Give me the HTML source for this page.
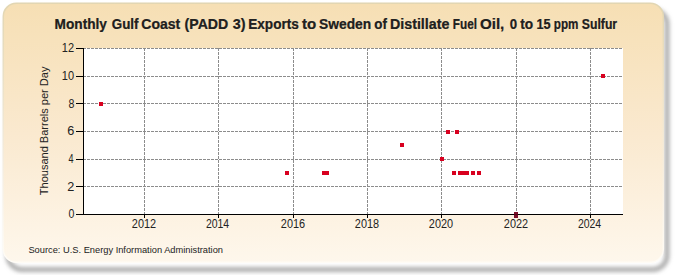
<!DOCTYPE html>
<html><head><meta charset="utf-8"><style>
html,body{margin:0;padding:0;background:#fff;}
body{width:675px;height:275px;overflow:hidden;}
svg{display:block;}
text{font-family:"Liberation Sans",sans-serif;fill:#222;}
</style></head><body>
<svg width="675" height="275" viewBox="0 0 675 275">
<defs>
<linearGradient id="bg" x1="0" y1="0" x2="0" y2="1">
<stop offset="0" stop-color="#f6dfb4"/>
<stop offset="0.5" stop-color="#fae9cf"/>
<stop offset="1" stop-color="#fef7ec"/>
</linearGradient>
<linearGradient id="bd" x1="0" y1="0" x2="0" y2="1">
<stop offset="0" stop-color="#e2d6b2"/>
<stop offset="0.6" stop-color="#f5ecdc"/>
<stop offset="1" stop-color="#fffcf6"/>
</linearGradient>
<filter id="soft" x="-2%" y="-2%" width="104%" height="104%"><feGaussianBlur stdDeviation="0.6"/></filter>
<filter id="sh" x="-10%" y="-10%" width="120%" height="130%"><feGaussianBlur stdDeviation="2.1"/></filter>
</defs>
<rect x="8" y="10" width="659" height="259.5" rx="14" fill="none" stroke="#a4a4a4" stroke-width="4.5" filter="url(#sh)"/>
<rect x="3.3" y="3.3" width="660" height="259" rx="13" fill="url(#bg)" stroke="url(#bd)" stroke-width="1.5" filter="url(#soft)"/>
<rect x="84" y="48" width="539" height="166" fill="#fff"/>
<g stroke="#8c8c8c" stroke-width="1" stroke-dasharray="3,1" fill="none">
<line x1="84" y1="186.5" x2="623" y2="186.5" stroke-dashoffset="1"/>
<line x1="84" y1="159.5" x2="623" y2="159.5" stroke-dashoffset="1"/>
<line x1="84" y1="131.5" x2="623" y2="131.5" stroke-dashoffset="1"/>
<line x1="84" y1="103.5" x2="623" y2="103.5" stroke-dashoffset="1"/>
<line x1="84" y1="76.5" x2="623" y2="76.5" stroke-dashoffset="1"/>
<line x1="84" y1="48.5" x2="623" y2="48.5" stroke-dashoffset="1"/>
<line x1="144.5" y1="48" x2="144.5" y2="214"/>
<line x1="218.5" y1="48" x2="218.5" y2="214"/>
<line x1="293.5" y1="48" x2="293.5" y2="214"/>
<line x1="367.5" y1="48" x2="367.5" y2="214"/>
<line x1="441.5" y1="48" x2="441.5" y2="214"/>
<line x1="516.5" y1="48" x2="516.5" y2="214"/>
<line x1="590.5" y1="48" x2="590.5" y2="214"/>
</g>
<g>
<rect x="99" y="102" width="4" height="4" fill="#d8001f"/>
<rect x="285" y="171" width="4" height="4" fill="#d8001f"/>
<rect x="322" y="171" width="4" height="4" fill="#d8001f"/>
<rect x="325" y="171" width="4" height="4" fill="#d8001f"/>
<rect x="400" y="143" width="4" height="4" fill="#d8001f"/>
<rect x="440" y="157" width="4" height="4" fill="#d8001f"/>
<rect x="446" y="130" width="4" height="4" fill="#d8001f"/>
<rect x="452" y="171" width="4" height="4" fill="#d8001f"/>
<rect x="455" y="130" width="4" height="4" fill="#d8001f"/>
<rect x="458" y="171" width="4" height="4" fill="#d8001f"/>
<rect x="462" y="171" width="4" height="4" fill="#d8001f"/>
<rect x="465" y="171" width="4" height="4" fill="#d8001f"/>
<rect x="471" y="171" width="4" height="4" fill="#d8001f"/>
<rect x="477" y="171" width="4" height="4" fill="#d8001f"/>
<rect x="601" y="74" width="4" height="4" fill="#d8001f"/>
</g>
<g stroke="#000" stroke-width="1" fill="none">
<line x1="83.5" y1="48" x2="83.5" y2="215"/>
<line x1="83" y1="214.5" x2="623" y2="214.5"/>
<line x1="76" y1="214.5" x2="83" y2="214.5"/>
<line x1="76" y1="186.5" x2="83" y2="186.5"/>
<line x1="76" y1="159.5" x2="83" y2="159.5"/>
<line x1="76" y1="131.5" x2="83" y2="131.5"/>
<line x1="76" y1="103.5" x2="83" y2="103.5"/>
<line x1="76" y1="76.5" x2="83" y2="76.5"/>
<line x1="76" y1="48.5" x2="83" y2="48.5"/>
<line x1="144.5" y1="214" x2="144.5" y2="218"/>
<line x1="218.5" y1="214" x2="218.5" y2="218"/>
<line x1="293.5" y1="214" x2="293.5" y2="218"/>
<line x1="367.5" y1="214" x2="367.5" y2="218"/>
<line x1="441.5" y1="214" x2="441.5" y2="218"/>
<line x1="516.5" y1="214" x2="516.5" y2="218"/>
<line x1="590.5" y1="214" x2="590.5" y2="218"/>
</g>
<rect x="514" y="212" width="4" height="6" fill="#7d0f2a"/><rect x="514" y="214" width="4" height="1" fill="#4a0615"/>
<text x="68.45" y="218.30" font-size="12" textLength="5.90" lengthAdjust="spacingAndGlyphs">0</text>
<text x="67.39" y="190.63" font-size="12" textLength="7.07" lengthAdjust="spacingAndGlyphs">2</text>
<text x="68.45" y="162.97" font-size="12" textLength="5.05" lengthAdjust="spacingAndGlyphs">4</text>
<text x="67.39" y="135.30" font-size="12" textLength="7.07" lengthAdjust="spacingAndGlyphs">6</text>
<text x="68.45" y="107.64" font-size="12" textLength="5.90" lengthAdjust="spacingAndGlyphs">8</text>
<text x="61.83" y="79.97" font-size="12" textLength="12.24" lengthAdjust="spacingAndGlyphs">10</text>
<text x="61.83" y="52.30" font-size="12" textLength="12.24" lengthAdjust="spacingAndGlyphs">12</text>
<text x="131.84" y="228" font-size="12" textLength="24.24" lengthAdjust="spacingAndGlyphs">2012</text>
<text x="205.88" y="228" font-size="12" textLength="23.31" lengthAdjust="spacingAndGlyphs">2014</text>
<text x="280.84" y="228" font-size="12" textLength="24.24" lengthAdjust="spacingAndGlyphs">2016</text>
<text x="354.84" y="228" font-size="12" textLength="24.24" lengthAdjust="spacingAndGlyphs">2018</text>
<text x="428.84" y="228" font-size="12" textLength="24.24" lengthAdjust="spacingAndGlyphs">2020</text>
<text x="503.84" y="228" font-size="12" textLength="24.24" lengthAdjust="spacingAndGlyphs">2022</text>
<text x="577.88" y="228" font-size="12" textLength="23.31" lengthAdjust="spacingAndGlyphs">2024</text>

<text x="54.62" y="29" font-size="14" font-weight="bold" textLength="52.34" lengthAdjust="spacingAndGlyphs" fill="#000" stroke="#000" stroke-width="0.2">Monthly</text>
<text x="111.74" y="29" font-size="14" font-weight="bold" textLength="26.75" lengthAdjust="spacingAndGlyphs" fill="#000" stroke="#000" stroke-width="0.2">Gulf</text>
<text x="141.30" y="29" font-size="14" font-weight="bold" textLength="38.90" lengthAdjust="spacingAndGlyphs" fill="#000" stroke="#000" stroke-width="0.2">Coast</text>
<text x="184.59" y="29" font-size="14" font-weight="bold" textLength="43.70" lengthAdjust="spacingAndGlyphs" fill="#000" stroke="#000" stroke-width="0.2">(PADD</text>
<text x="232.70" y="29" font-size="14" font-weight="bold" textLength="12.76" lengthAdjust="spacingAndGlyphs" fill="#000" stroke="#000" stroke-width="0.2">3)</text>
<text x="248.23" y="29" font-size="14" font-weight="bold" textLength="50.59" lengthAdjust="spacingAndGlyphs" fill="#000" stroke="#000" stroke-width="0.2">Exports</text>
<text x="302.00" y="29" font-size="14" font-weight="bold" textLength="14.23" lengthAdjust="spacingAndGlyphs" fill="#000" stroke="#000" stroke-width="0.2">to</text>
<text x="319.12" y="29" font-size="14" font-weight="bold" textLength="52.07" lengthAdjust="spacingAndGlyphs" fill="#000" stroke="#000" stroke-width="0.2">Sweden</text>
<text x="374.30" y="29" font-size="14" font-weight="bold" textLength="12.60" lengthAdjust="spacingAndGlyphs" fill="#000" stroke="#000" stroke-width="0.2">of</text>
<text x="389.98" y="29" font-size="14" font-weight="bold" textLength="59.38" lengthAdjust="spacingAndGlyphs" fill="#000" stroke="#000" stroke-width="0.2">Distillate</text>
<text x="452.86" y="29" font-size="14" font-weight="bold" textLength="24.09" lengthAdjust="spacingAndGlyphs" fill="#000" stroke="#000" stroke-width="0.2">Fuel</text>
<text x="479.92" y="29" font-size="14" font-weight="bold" textLength="24.38" lengthAdjust="spacingAndGlyphs" fill="#000" stroke="#000" stroke-width="0.2">Oil,</text>
<text x="509.70" y="29" font-size="14" font-weight="bold" textLength="7.34" lengthAdjust="spacingAndGlyphs" fill="#000" stroke="#000" stroke-width="0.2">0</text>
<text x="520.30" y="29" font-size="14" font-weight="bold" textLength="12.91" lengthAdjust="spacingAndGlyphs" fill="#000" stroke="#000" stroke-width="0.2">to</text>
<text x="536.39" y="29" font-size="14" font-weight="bold" textLength="14.13" lengthAdjust="spacingAndGlyphs" fill="#000" stroke="#000" stroke-width="0.2">15</text>
<text x="553.87" y="29" font-size="14" font-weight="bold" textLength="24.59" lengthAdjust="spacingAndGlyphs" fill="#000" stroke="#000" stroke-width="0.2">ppm</text>
<text x="581.83" y="29" font-size="14" font-weight="bold" textLength="35.26" lengthAdjust="spacingAndGlyphs" fill="#000" stroke="#000" stroke-width="0.2">Sulfur</text>
<text x="28.43" y="253" font-size="9.5" textLength="194.55" lengthAdjust="spacingAndGlyphs">Source: U.S. Energy Information Administration</text>
<text transform="translate(47.5,195.20) rotate(-90)" x="0" y="0" font-size="11.5" textLength="128.62" lengthAdjust="spacingAndGlyphs">Thousand Barrels per Day</text>

</svg>
</body></html>
